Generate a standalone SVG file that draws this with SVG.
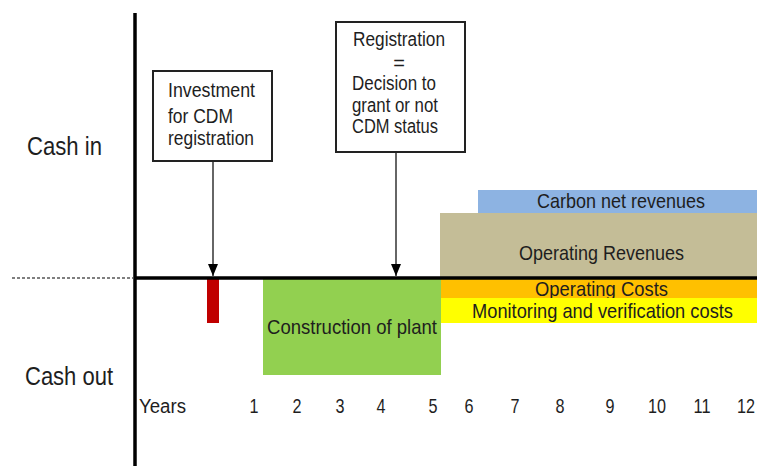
<svg xmlns="http://www.w3.org/2000/svg" width="757" height="466" viewBox="0 0 757 466">
<style>
text{font-family:"Liberation Sans",Arial,sans-serif;fill:#1e1e1e}
.lbl{font-size:25px}
.box{fill:#fff;stroke:#222;stroke-width:2}
.t18{font-size:20px}
.t20{font-size:21px}
.yr{font-size:21px;text-anchor:middle}
.conn{stroke:#333;stroke-width:1.5;fill:none}
</style>
<defs>
<marker id="ah" viewBox="0 0 12 10" refX="12" refY="5" markerWidth="12" markerHeight="10" markerUnits="userSpaceOnUse" orient="auto">
<path d="M0,0 L12,5 L0,10 Z" fill="#000"/>
</marker>
</defs>
<rect width="757" height="466" fill="#fff"/>

<g id="bands">
<g id="carbon"><rect x="478" y="190" width="279" height="23" fill="#8db3e2"/><text class="t20" x="537" y="208" textLength="168" lengthAdjust="spacingAndGlyphs">Carbon net revenues</text></g>
<g id="oprev"><rect x="440" y="213" width="317" height="65" fill="#c4bd97"/><text class="t20" x="519" y="260" textLength="165" lengthAdjust="spacingAndGlyphs">Operating Revenues</text></g>
<g id="opcost"><rect x="440" y="278" width="317" height="20" fill="#ffc000"/><text class="t20" x="535" y="296" textLength="133" lengthAdjust="spacingAndGlyphs">Operating Costs</text></g>
<g id="monitor"><rect x="440" y="298" width="317" height="25" fill="#ffff00"/><text class="t20" x="472" y="318" textLength="261" lengthAdjust="spacingAndGlyphs">Monitoring and verification costs</text></g>
<g id="construction"><rect x="263" y="278" width="178" height="97" fill="#92d050"/><text class="t20" x="267" y="334" textLength="170" lengthAdjust="spacingAndGlyphs">Construction of plant</text></g>
<g id="invest-bar"><rect x="207" y="278" width="12" height="45" fill="#c00000"/></g>
</g>

<g id="axes">
<line x1="135" y1="13" x2="135" y2="466" stroke="#000" stroke-width="3.5"/>
<line x1="135" y1="278" x2="757" y2="278" stroke="#000" stroke-width="3.5"/>
<line x1="12" y1="278" x2="133" y2="278" stroke="#000" stroke-width="1.2" stroke-dasharray="3,2"/>
</g>

<g id="cash-in"><text class="lbl" x="27" y="155" textLength="75" lengthAdjust="spacingAndGlyphs">Cash in</text></g>
<g id="cash-out"><text class="lbl" x="25" y="385" textLength="88" lengthAdjust="spacingAndGlyphs">Cash out</text></g>

<g id="investment">
<rect class="box" x="153" y="71" width="119" height="90"/>
<text class="t18" x="168" y="97" textLength="87" lengthAdjust="spacingAndGlyphs">Investment</text>
<text class="t18" x="168" y="123" textLength="65" lengthAdjust="spacingAndGlyphs">for CDM</text>
<text class="t18" x="168" y="145" textLength="86" lengthAdjust="spacingAndGlyphs">registration</text>
</g>

<g id="registration">
<rect class="box" x="336" y="22" width="129" height="130"/>
<text class="t18" x="353" y="46" textLength="92" lengthAdjust="spacingAndGlyphs">Registration</text>
<text class="t18" x="399" y="70" text-anchor="middle">=</text>
<text class="t18" x="352" y="90" textLength="84" lengthAdjust="spacingAndGlyphs">Decision to</text>
<text class="t18" x="352" y="112" textLength="86" lengthAdjust="spacingAndGlyphs">grant or not</text>
<text class="t18" x="352" y="133" textLength="86" lengthAdjust="spacingAndGlyphs">CDM status</text>
</g>

<g id="connectors">
<line class="conn" x1="213" y1="162" x2="213" y2="276" marker-end="url(#ah)" stroke="#555"/>
<line class="conn" x1="396" y1="153" x2="396" y2="276" marker-end="url(#ah)"/>
</g>

<g id="years">
<text x="139" y="413" font-size="20" textLength="47" lengthAdjust="spacingAndGlyphs">Years</text>
<text class="yr" x="254" y="413" textLength="9" lengthAdjust="spacingAndGlyphs">1</text>
<text class="yr" x="297" y="413" textLength="9" lengthAdjust="spacingAndGlyphs">2</text>
<text class="yr" x="340" y="413" textLength="9" lengthAdjust="spacingAndGlyphs">3</text>
<text class="yr" x="381" y="413" textLength="9" lengthAdjust="spacingAndGlyphs">4</text>
<text class="yr" x="433" y="413" textLength="9" lengthAdjust="spacingAndGlyphs">5</text>
<text class="yr" x="469" y="413" textLength="9" lengthAdjust="spacingAndGlyphs">6</text>
<text class="yr" x="515" y="413" textLength="9" lengthAdjust="spacingAndGlyphs">7</text>
<text class="yr" x="560" y="413" textLength="9" lengthAdjust="spacingAndGlyphs">8</text>
<text class="yr" x="610" y="413" textLength="9" lengthAdjust="spacingAndGlyphs">9</text>
<text class="yr" x="657" y="413" textLength="18" lengthAdjust="spacingAndGlyphs">10</text>
<text class="yr" x="702" y="413" textLength="17" lengthAdjust="spacingAndGlyphs">11</text>
<text class="yr" x="746" y="413" textLength="18" lengthAdjust="spacingAndGlyphs">12</text>
</g>
</svg>
